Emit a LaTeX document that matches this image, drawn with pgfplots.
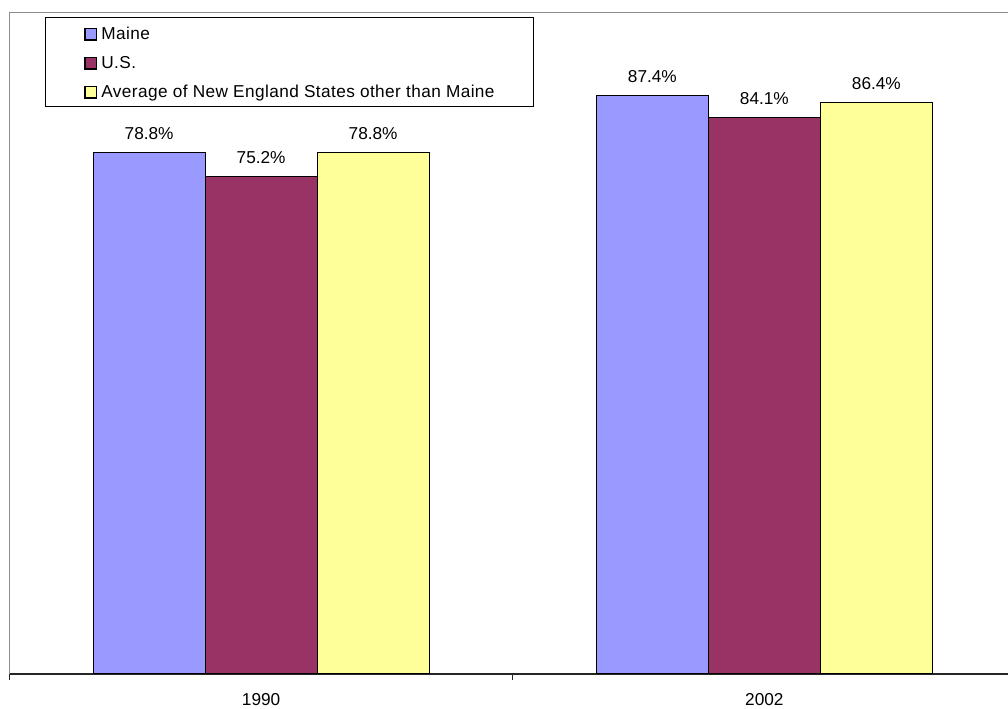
\documentclass[border=0pt]{standalone}
\usepackage{pgfplots}
\pgfplotsset{compat=1.18}
\usepackage{fontspec}
\setmainfont{Liberation Sans}
\newfontfamily\legfont[LetterSpace=2.3]{Liberation Sans}
\definecolor{cMaine}{HTML}{9999FF}
\definecolor{cUS}{HTML}{993366}
\definecolor{cNE}{HTML}{FFFF99}
\definecolor{frame}{HTML}{8C8C8C}
\begin{document}
\begin{tikzpicture}[x=1bp,y=1bp]
\path[use as bounding box, clip] (0,0) rectangle (1008,709);
\begin{axis}[
  at={(9.5bp,35bp)}, anchor=south west,
  scale only axis,
  width=1006.5bp, height=661.7bp,
  xmin=-0.5, xmax=1.5, ymin=0, ymax=100,
  clip=false,
  ybar=0pt, bar width=112bp,
  axis x line*=bottom, axis y line*=left,
  x axis line style={black!85, line width=1.5bp},
  y axis line style={frame, line width=1.2bp},
  ytick=\empty,
  xtick={0,1}, xticklabels={1990,2002},
  major x tick style={draw=none},
  minor xtick={-0.5,0.5,1.5},
  minor tick length=6bp,
  minor x tick style={black!85, line width=0.8bp},
  xtick align=outside,
  xticklabel style={inner sep=0pt, yshift=-15bp},
  tick label style={font=\fontsize{17.3}{20}\selectfont},
  /pgf/number format/assume math mode=true,
  nodes near coords={\pgfmathprintnumber[fixed,precision=1,fixed zerofill]{\pgfplotspointmeta}\%},
  every node near coord/.append style={font=\fontsize{17.3}{20}\selectfont, black, yshift=9bp},
  legend style={at={(axis description cs:0,1)}, anchor=north west, xshift=35.5bp, yshift=-4.7bp,
    draw=black, line width=0.8bp, font=\legfont\fontsize{17.3}{20}\selectfont,
    inner xsep=39bp, inner ysep=7bp, row sep=12.3bp,
    nodes={inner sep=0pt, text height=14.7bp, text depth=2bp},
    /tikz/every odd column/.append style={column sep=4bp}},
  legend cell align=left,
  legend image code/.code={\draw[#1, line width=1.3bp] (0.65bp,-7.2bp) rectangle (12.35bp,4.5bp);},
]
\addplot[fill=cMaine, draw=black, line width=1bp] coordinates {(0,78.8) (1,87.4)};
\addplot[fill=cUS, draw=black, line width=1bp] coordinates {(0,75.2) (1,84.1)};
\addplot[fill=cNE, draw=black, line width=1bp] coordinates {(0,78.8) (1,86.4)};
\legend{Maine, U.S., Average of New England States other than Maine}
\draw[frame, line width=1.2bp] (rel axis cs:0,1) -- (rel axis cs:1,1);
\end{axis}
\end{tikzpicture}
\end{document}
